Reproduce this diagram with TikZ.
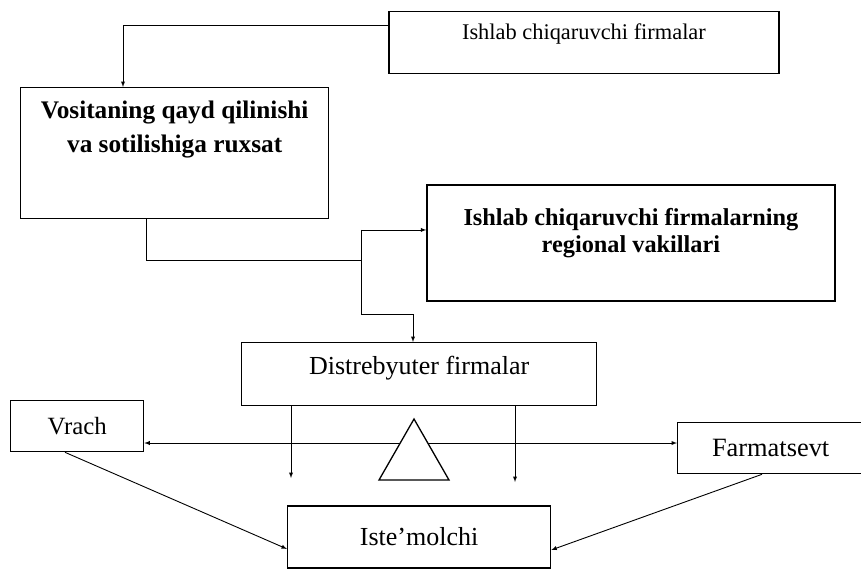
\documentclass[tikz,border=0pt]{standalone}
\usepackage{fontspec}
\setmainfont{Liberation Serif}
\usepackage{tikz}
\usetikzlibrary{arrows,positioning}
\tikzstyle{frame} = [rectangle, draw=black, line width=1.3pt, fill=white, anchor=north west, inner sep=0pt, font=\fontsize{26}{30}\selectfont]
\tikzstyle{plain} = [draw=none, fill=none, inner sep=1pt, text centered, font=\fontsize{22.4}{26}\selectfont]
\tikzstyle{heavy} = [draw=none, fill=none, inner sep=1pt, align=center, font=\bfseries\fontsize{24.3}{27}\selectfont]
\tikzstyle{tedge}  = [draw, line width=0.9pt, >=latex, ->]

\begin{document}
\begin{tikzpicture}[x=1pt, y=-1pt]
\useasboundingbox (0,0) rectangle (861,571);
\clip (0,0) rectangle (861,571);

% blocks =============================
\node[frame, minimum width=308pt, minimum height=131pt,
      label={[heavy, font=\bfseries\fontsize{25.3}{34}\selectfont, below=13pt]north:{Vositaning qayd qilinishi\\va sotilishiga ruxsat}}] (reg) at (20,87) {};
\node[frame, above right=13pt and 59pt of reg, minimum width=390pt, minimum height=62pt,
      label={[plain, below=12pt]north:Ishlab chiqaruvchi firmalar}] (maker) {};
\node[frame, below right=-35pt and 97pt of reg, minimum width=408pt, minimum height=116pt,
      label={[heavy, below=23pt]north:{Ishlab chiqaruvchi firmalarning\\regional vakillari}}] (rep) {};
\node[frame, minimum width=355pt, minimum height=63pt,
      label={[plain, font=\fontsize{26}{30}\selectfont, below=12.5pt]north:Distrebyuter firmalar}] (dist) at (241,342) {};
\node[frame, minimum width=133pt, minimum height=51pt, font=\fontsize{24.8}{28}\selectfont] (vrach) at (10,400) {Vrach};
\node[frame, minimum width=193pt, minimum height=51pt, font=\fontsize{26.4}{30}\selectfont] (farm) at (677,422) {\hspace*{-7pt}Farmatsevt};
\node[frame, below=99pt of dist, minimum width=263pt, minimum height=62pt] (cons) {Iste’molchi};

% edges
\coordinate (m1) at ([yshift=-15pt]maker.north west);
\coordinate (r1) at ([xshift=103pt]reg.north west);
\path[tedge] (m1) -| (r1);

\coordinate (r2) at ([xshift=126pt]reg.south west);
\coordinate (p1) at ([yshift=13pt]rep.west);
\coordinate (jn) at (361,260);
\coordinate (jb) at (361,314);
\coordinate (d1) at ([xshift=172pt]dist.north west);
\draw[line width=0.9pt] (r2) |- (jn);
\path[tedge] (p1 -| jn) -- (p1);
\path[tedge] (p1 -| jn) -- (jb) -| (d1);

% balance
\coordinate (bm) at (0,443);
\path[tedge, <->] (vrach.east |- bm) -- (farm.west |- bm);
\draw[line width=1.3pt, fill=white] (379,480) -- (414,419) -- (449,480) -- cycle;

\coordinate (a1) at (291,478);
\coordinate (a2) at (515,482);
\path[tedge] (dist.south -| a1) -- (a1);
\path[tedge] (dist.south -| a2) -- (a2);

% to consumer
\path[tedge] ([xshift=55pt]vrach.south west) -- ([yshift=-12pt]cons.west);
\path[tedge] ([xshift=85pt]farm.south west) -- ([yshift=-13pt]cons.east);

\end{tikzpicture}
\end{document}
